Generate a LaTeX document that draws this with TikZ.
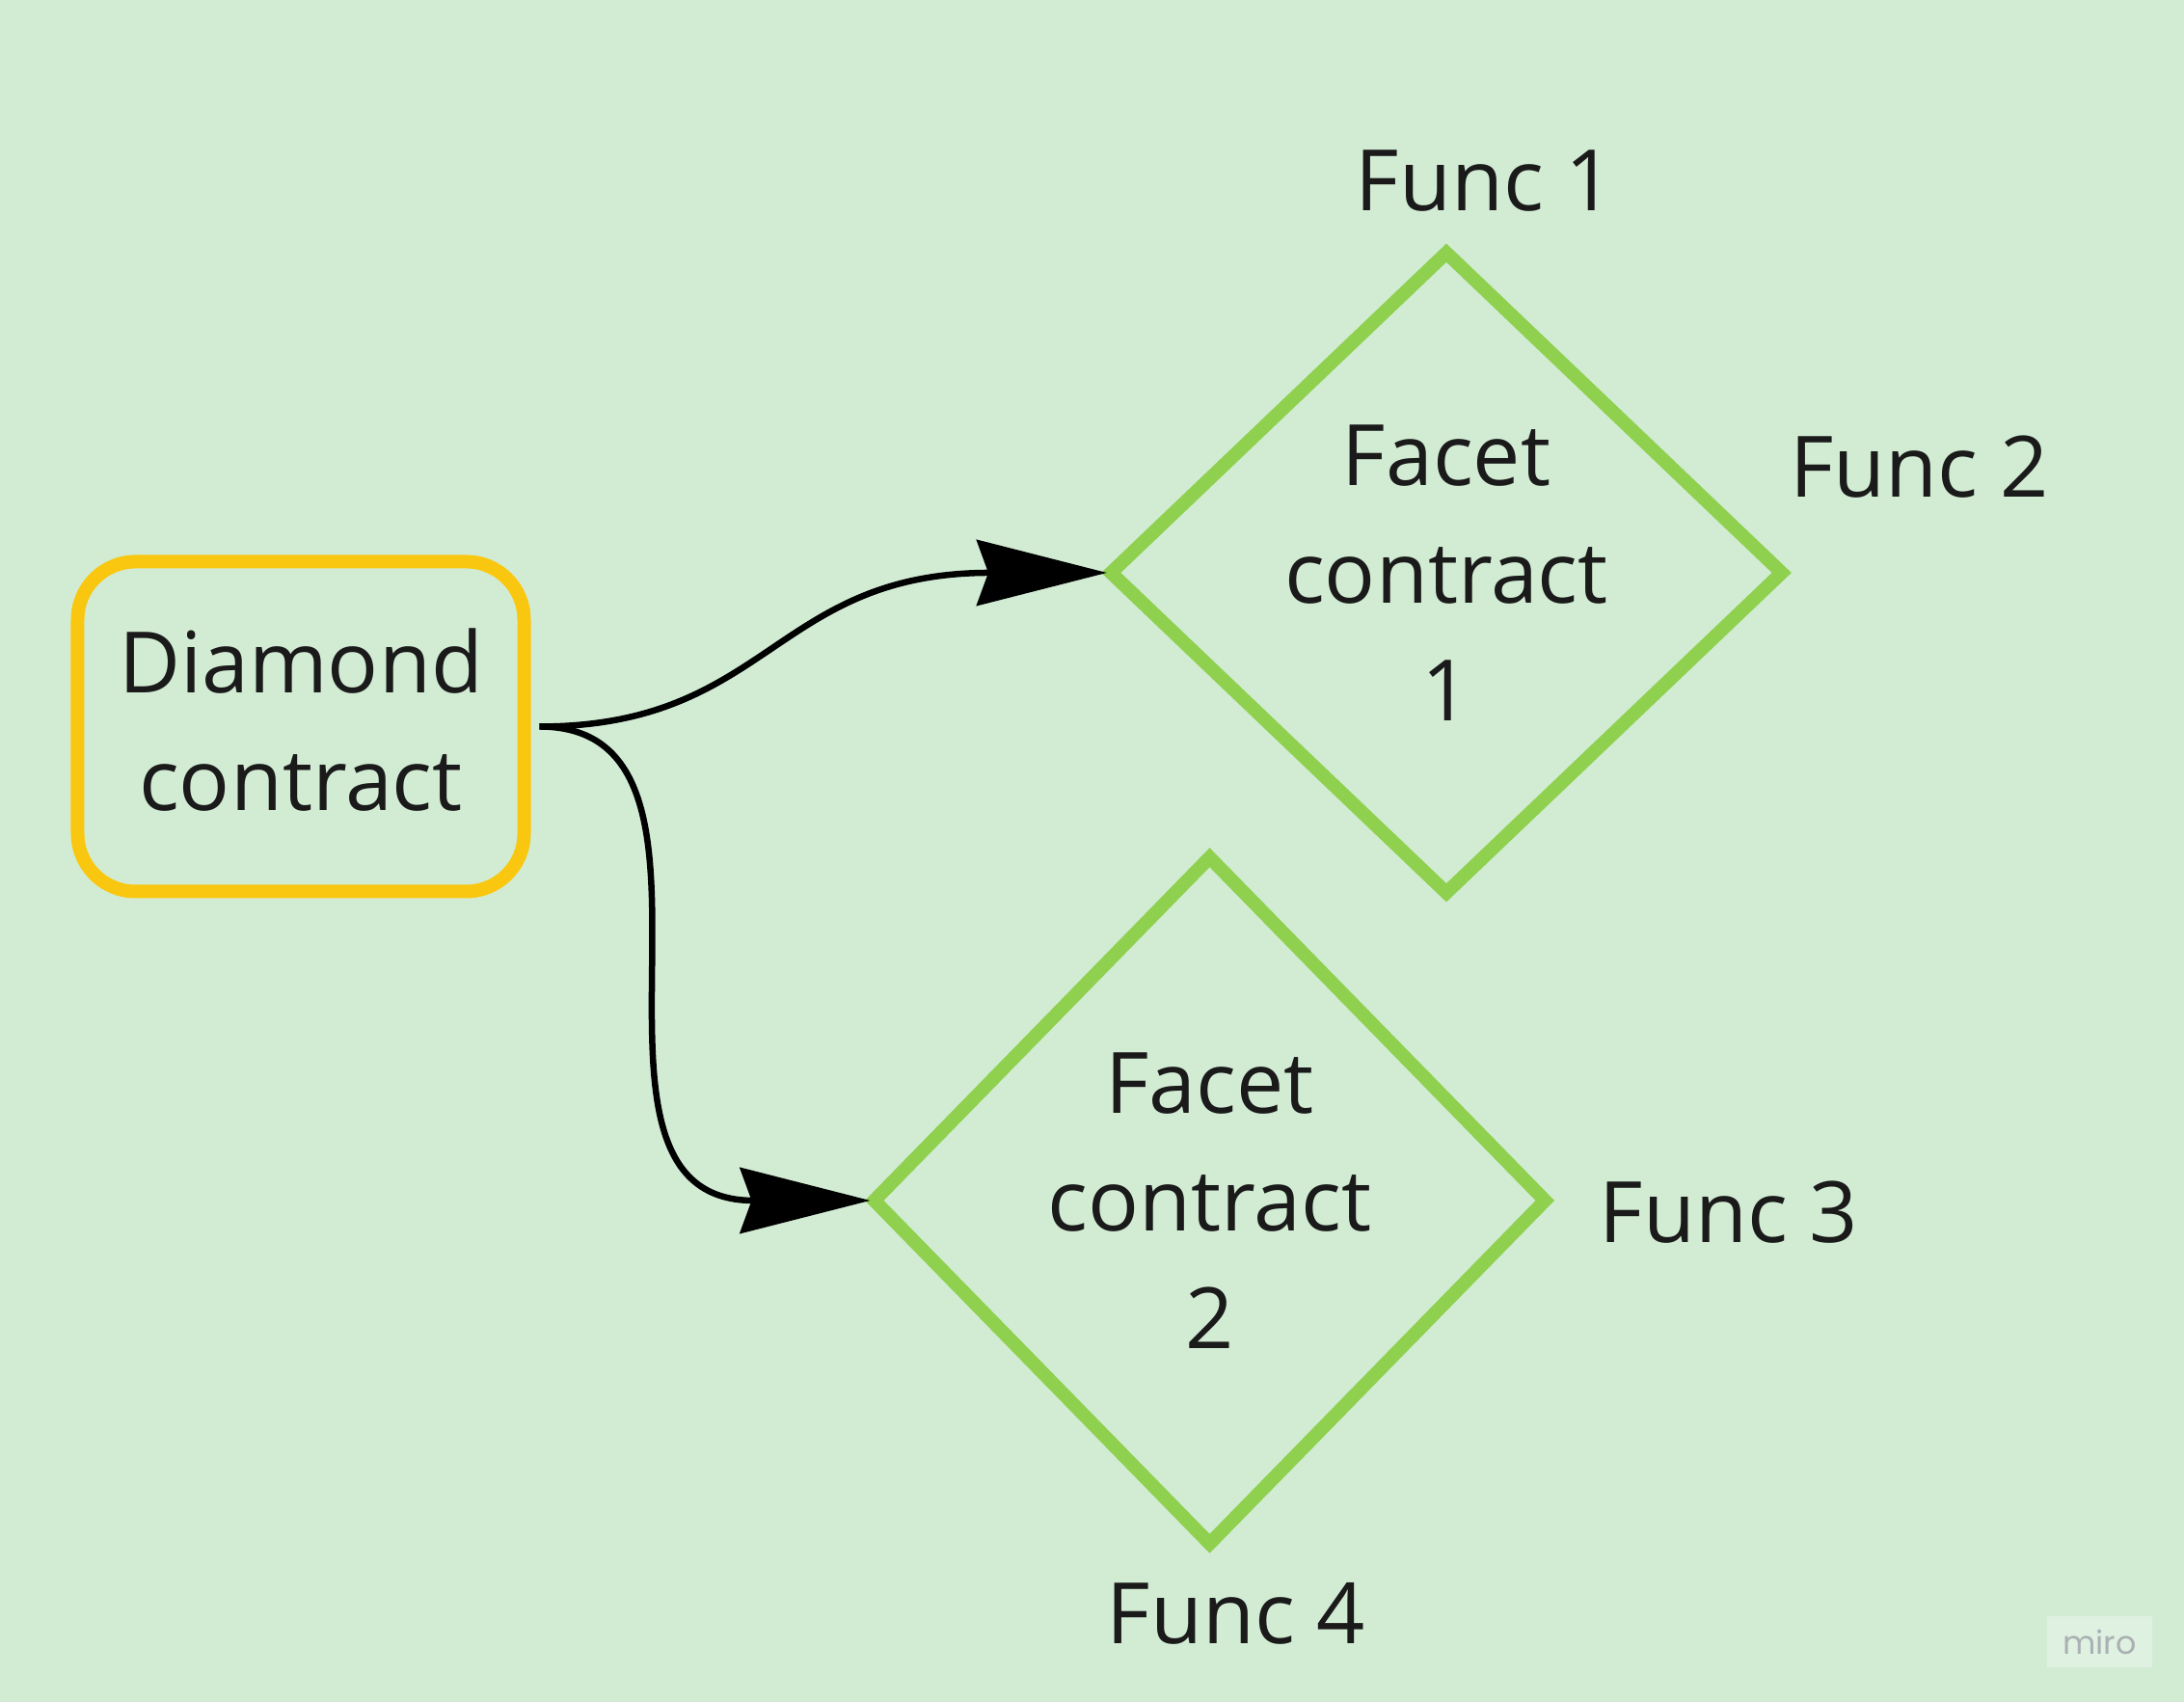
\documentclass[tikz,border=0pt]{standalone}
\usepackage{fontspec}
\setmainfont{Open Sans}
\newfontfamily\logofont{Poppins}
\definecolor{boardgreen}{RGB}{210,236,212}
\definecolor{miroyellow}{RGB}{250,199,16}
\definecolor{mirogreen}{RGB}{143,209,79}
\definecolor{inkblack}{RGB}{26,26,26}
\definecolor{logogray}{RGB}{170,176,180}
\usepackage{tikz}
\usetikzlibrary{shapes.geometric, arrows.meta, positioning}

\begin{document}
\begin{tikzpicture}[
    txt/.style={font=\fontsize{25}{34.8}\selectfont, text=inkblack, align=center},
    facet/.style={txt, diamond, aspect=1.05, draw=mirogreen, line width=0.14cm, inner sep=0pt, outer sep=0.03cm},
    link/.style={line width=0.065cm, -{Stealth[length=1.35cm, width=0.68cm, inset=0.12cm]}, out=0, in=180, in looseness=1.45}
]
    % Board
    \fill[boardgreen] (0,0) rectangle (22.65,17.65);
    % Contracts
    \node[txt, rectangle, rounded corners=0.6cm, draw=miroyellow, line width=0.14cm, minimum width=4.63cm, minimum height=3.42cm, outer sep=0.16cm, text depth=0.15cm] (diamond) at (3.12,10.115) {Diamond\\contract};
    \node[facet, minimum width=6.98cm, minimum height=6.66cm] (facet1) at (15.0,11.71) {Facet\\contract\\1};
    \node[facet, minimum width=6.98cm, minimum height=7.14cm] (facet2) at (12.545,5.2) {Facet\\contract\\2};
    % Links
    \draw[link] (diamond.east) to (facet1.west);
    \draw[link] (diamond.east) to (facet2.west);
    % Functions
    \node[txt] (func1) at (15.40,15.77) {Func 1};
    \node[txt] (func2) at (19.905,12.81) {Func 2};
    \node[txt] (func3) at (17.93,5.08) {Func 3};
    \node[txt] (func4) at (12.82,0.92) {Func 4};
    % Watermark
    \node[fill=white, fill opacity=0.3, text opacity=1, text=logogray, font=\logofont\fontsize{9.5}{10}\selectfont, minimum width=1.09cm, minimum height=0.53cm, inner sep=0pt] (logo) at (21.775,0.625) {miro};
\end{tikzpicture}
\end{document}
